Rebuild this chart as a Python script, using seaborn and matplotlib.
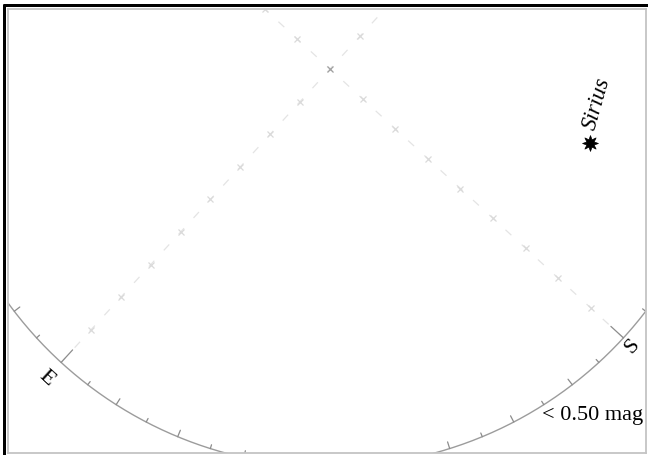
import numpy as np
import pandas as pd
import matplotlib
matplotlib.use("Agg")
import matplotlib.pyplot as plt
import seaborn as sns
from matplotlib.markers import MarkerStyle
from matplotlib.transforms import Affine2D
from matplotlib.lines import Line2D

# ---------------- data ----------------
star_names = ["Sirius"]
star_alt = [28.9]          # degrees above horizon
star_az = [206.6]          # azimuth, degrees (N=0, E=90)
cardinal_labels = ["E", "S"]
cardinal_az = [90, 180]
grid_line_az = [0, 90, 180, 270]                 # meridian / prime vertical rays
grid_mark_alt = [80, 70, 60, 50, 40, 30, 20, 10]  # cross marks along the rays
horizon_tick_az = list(range(0, 360, 5))
mag_legend_label = "< 0.50 mag"

# ---------------- layout / style ----------------
W, H, DPI = 648, 455, 100
ROT = 137.5                 # screen angle = azimuth + ROT
PX_PER_DEG = 398 / 90.0
ZEN_PX = (330, 69)
AX_BOX = (8, 9, 646, 453)   # left, top, right, bottom in pixels
px2pt = 72.0 / DPI

sns.set_theme(style="white")
plt.rcParams["font.family"] = ["Liberation Serif", "DejaVu Serif"]


def proj(az, alt):
    az = np.asarray(az, float)
    alt = np.asarray(alt, float)
    r = 90.0 - alt
    th = np.deg2rad(az + ROT)
    return r * np.cos(th), r * np.sin(th)


fig = plt.figure(figsize=(W / DPI, H / DPI), dpi=DPI)
ax = fig.add_axes([AX_BOX[0] / W, (H - AX_BOX[3]) / H,
                   (AX_BOX[2] - AX_BOX[0]) / W, (AX_BOX[3] - AX_BOX[1]) / H])
ax.set_xlim((AX_BOX[0] - ZEN_PX[0]) / PX_PER_DEG, (AX_BOX[2] - ZEN_PX[0]) / PX_PER_DEG)
ax.set_ylim((ZEN_PX[1] - AX_BOX[3]) / PX_PER_DEG, (ZEN_PX[1] - AX_BOX[1]) / PX_PER_DEG)
ax.set_xticks([])
ax.set_yticks([])
for sp in ax.spines.values():
    sp.set_color("#c4c4c4")
    sp.set_linewidth(1.3)

# ---- grid rays from zenith with dashes and cross marks ----
lw_grid = 0.9
for gaz in grid_line_az:
    rx, ry = proj([gaz, gaz], [90, 0])
    ax.plot(rx, ry, color="#e4e4e4", lw=lw_grid,
            linestyle=(4 * px2pt / lw_grid, (8 * px2pt / lw_grid, 14 * px2pt / lw_grid)))
    mx, my = proj([gaz] * len(grid_mark_alt), grid_mark_alt)
    ax.plot(mx, my, ls="none",
            marker=MarkerStyle("+", transform=Affine2D().rotate_deg(47.5)),
            ms=6, mew=0.9, color="#dadada")

zx, zy = proj([0], [90])
ax.plot(zx, zy, ls="none", marker="x", ms=5, mew=0.9, color="#a0a0a0")

# ---- horizon circle ----
haz = np.linspace(0, 360, 721)
hx, hy = proj(haz, np.zeros_like(haz))
sns.lineplot(x=hx, y=hy, sort=False, estimator=None, color="#9c9c9c", lw=1.0, ax=ax)

# ---- horizon ticks ----
for taz in horizon_tick_az:
    if taz % 90 == 0:
        L = 17
    elif taz % 10 == 0:
        L = 7
    else:
        L = 4
    tx, ty = proj([taz, taz], [0, L / PX_PER_DEG])
    ax.plot(tx, ty, color="#8c8c8c", lw=0.9)

# ---- cardinal labels ----
card_offset_px = {"E": 21, "S": 12}
for lab, caz in zip(cardinal_labels, cardinal_az):
    cx, cy = proj([caz], [-card_offset_px[lab] / PX_PER_DEG])
    ax.text(cx[0], cy[0], lab, rotation=caz + ROT + 90, rotation_mode="anchor",
            ha="center", va="center", fontsize=16, color="black")

# ---- stars ----
sx, sy = proj(star_az, star_alt)
star_df = pd.DataFrame({"x": sx, "y": sy, "name": star_names})
sns.scatterplot(data=star_df, x="x", y="y", marker=(8, 1, 0), s=130,
                color="black", edgecolor="black", linewidth=0.5, ax=ax, legend=False)
for x, y, name, saz in zip(sx, sy, star_names, star_az):
    rot = (saz + ROT + 90) % 360
    th = np.deg2rad(rot)
    off = 13
    perp = 4
    dx = off * np.cos(th) - perp * np.sin(th)
    dy = off * np.sin(th) + perp * np.cos(th)
    ax.annotate(name, (x, y), xytext=(dx, dy), textcoords="offset pixels",
                rotation=rot, rotation_mode="anchor", ha="left", va="center",
                fontsize=16.5, fontstyle="italic", color="black")

ax.set_xlabel("")
ax.set_ylabel("")

# ---- magnitude legend text ----
fig.text(643 / W, (H - 420) / H, mag_legend_label, ha="right", va="baseline",
         fontsize=16, color="black")

# ---- outer black frame (cropped) ----
fig.add_artist(Line2D([4 / W, 1.0], [(H - 5) / H, (H - 5) / H], color="black",
                      lw=3 * px2pt, transform=fig.transFigure))
fig.add_artist(Line2D([4 / W, 4 / W], [0.0, (H - 5) / H], color="black",
                      lw=3 * px2pt, transform=fig.transFigure))

fig.savefig("out.png", dpi=DPI)
